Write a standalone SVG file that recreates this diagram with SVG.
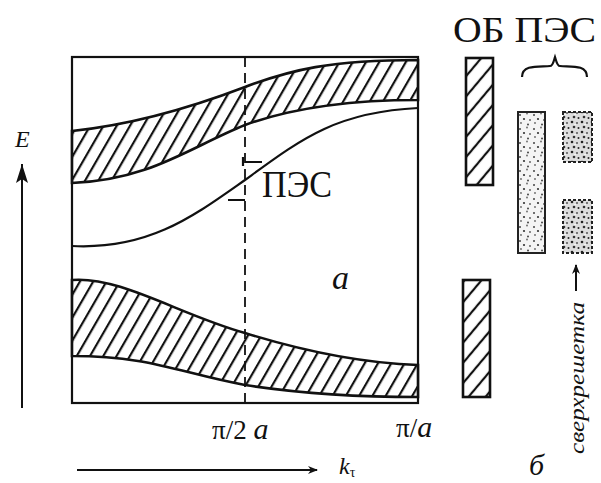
<svg xmlns="http://www.w3.org/2000/svg" width="601" height="483" viewBox="0 0 601 483">
<style>
.ln{fill:none;stroke:#111;stroke-width:2.2}
.bd{stroke:#111;stroke-width:2.6}
.t{font-family:"Liberation Serif","Times New Roman",serif;fill:#111}
.it{font-style:italic}
</style>
<defs>
<pattern id="hb" patternUnits="userSpaceOnUse" width="11.5" height="20" patternTransform="rotate(30)">
<rect width="11.5" height="20" fill="#fff"/>
<line x1="3" y1="0" x2="3" y2="20" stroke="#111" stroke-width="2.2"/>
</pattern>
<pattern id="hr" patternUnits="userSpaceOnUse" width="13" height="20" patternTransform="rotate(40)">
<rect width="13" height="20" fill="#fff"/>
<line x1="3" y1="0" x2="3" y2="20" stroke="#111" stroke-width="2.2"/>
</pattern>
<pattern id="dt" patternUnits="userSpaceOnUse" width="14" height="14">
<rect width="14" height="14" fill="#f4f4f4"/>
<circle cx="2" cy="3" r="1" fill="#444"/>
<circle cx="9" cy="1.5" r="0.9" fill="#666"/>
<circle cx="6" cy="7" r="1.1" fill="#333"/>
<circle cx="12" cy="8" r="0.9" fill="#555"/>
<circle cx="3" cy="11" r="0.9" fill="#666"/>
<circle cx="10" cy="12.5" r="1" fill="#444"/>
</pattern>
<pattern id="dd" patternUnits="userSpaceOnUse" width="10" height="10">
<rect width="10" height="10" fill="#ddd"/>
<circle cx="2" cy="2" r="1.3" fill="#222"/>
<circle cx="7" cy="3" r="1" fill="#555"/>
<circle cx="4" cy="7" r="1.3" fill="#333"/>
<circle cx="8.5" cy="8" r="1" fill="#222"/>
<circle cx="5" cy="4.5" r="0.8" fill="#fff"/>
</pattern>
<marker id="ah" viewBox="0 0 10 10" refX="9" refY="5" markerWidth="10" markerHeight="10" markerUnits="userSpaceOnUse" orient="auto">
<path d="M0,1 L10,5 L0,9 L3,5 Z" fill="#111"/>
</marker>
<marker id="ah2" viewBox="0 0 20 14" refX="19" refY="7" markerWidth="20" markerHeight="14" markerUnits="userSpaceOnUse" orient="auto">
<path d="M0,1 L19,7 L0,13 L4,7 Z" fill="#111"/>
</marker>
</defs>

<g id="band-plot">
<rect x="72" y="57" width="346" height="346" class="ln"/>
<path id="upper-band" class="bd" fill="url(#hb)" d="M72,131 C130,125 190,108 245,87 C290,70 330,60 418,60 L418,100 C360,100 300,105 245,125 C190,147 150,180 72,183 Z"/>
<path id="lower-band" class="bd" fill="url(#hb)" d="M72,280 C120,276 180,315 245,333 C300,350 360,363 418,365 L418,397 C340,397 290,392 245,385 C180,373 150,356 72,356 Z"/>
<path id="pes-curve" class="ln" d="M72,246 C150,250 195,215 245,180 C300,140 335,112 418,108"/>
<line x1="245" y1="57" x2="245" y2="403" stroke="#111" stroke-width="1.8" stroke-dasharray="10,6"/>
<path class="ln" d="M245,162 L262,162 M243,157 L243,166 M228,200 L245,200" stroke-width="1.8"/>
</g>

<g id="labels">
<text class="t" x="262" y="197" font-size="38" textLength="70" lengthAdjust="spacingAndGlyphs">ПЭС</text>
<text class="t it" x="332" y="289" font-size="34">a</text>
<text class="t" x="212" y="439" font-size="27">π/2 <tspan class="it" font-size="30">a</tspan></text>
<text class="t" x="396" y="437" font-size="27">π/<tspan class="it" font-size="30">a</tspan></text>
<text class="t it" x="15" y="147" font-size="24">E</text>
<text class="t it" x="339" y="474" font-size="24">k<tspan font-size="14" dy="3" font-style="normal">τ</tspan></text>
<text class="t it" x="529" y="475" font-size="30">б</text>
<text class="t" x="453" y="42" font-size="36" textLength="143" lengthAdjust="spacingAndGlyphs">ОБ ПЭС</text>
<text class="t it" transform="translate(584,454) rotate(-90)" font-size="22" textLength="152" lengthAdjust="spacingAndGlyphs">сверхрешетка</text>
</g>

<g id="axes">
<line x1="22" y1="408" x2="22" y2="164" stroke="#111" stroke-width="2" marker-end="url(#ah2)"/>
<line x1="77" y1="470" x2="317" y2="470" stroke="#111" stroke-width="2" marker-end="url(#ah)"/>
<line x1="576" y1="291" x2="576" y2="265" stroke="#111" stroke-width="2" marker-end="url(#ah)"/>
</g>

<g id="ob">
<rect x="466" y="58" width="27" height="127" class="bd" fill="url(#hr)"/>
<rect x="463" y="280" width="27" height="117" class="bd" fill="url(#hr)"/>
</g>

<g id="pes">
<path class="ln" d="M522,77 C522,64 540,67 550,66 C553,66 554,60 555,57 C556,60 557,66 560,66 C570,67 587,64 587,77"/>
<rect x="518" y="112" width="27" height="141" stroke="#222" stroke-width="2" fill="url(#dt)"/>
<rect x="563" y="112" width="29" height="50" stroke="#222" stroke-width="2" stroke-dasharray="3,2" fill="url(#dd)"/>
<rect x="563" y="200" width="29" height="53" stroke="#222" stroke-width="2" stroke-dasharray="3,2" fill="url(#dd)"/>
</g>
</svg>
